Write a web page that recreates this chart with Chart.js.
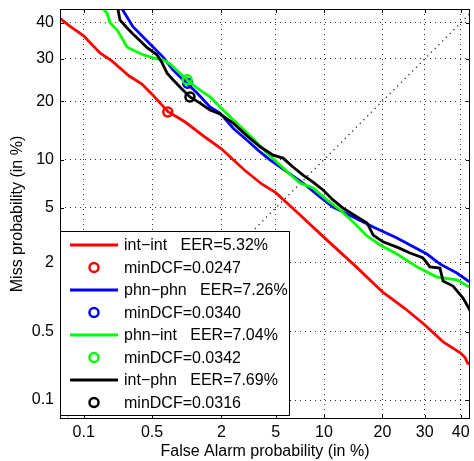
<!DOCTYPE html>
<html>
<head>
<meta charset="utf-8">
<script src="https://cdn.jsdelivr.net/npm/chart.js@4/dist/chart.umd.min.js"></script>
<style>
  html, body { margin: 0; padding: 0; background: #fff; }
  #wrap { width: 474px; height: 461px; }
</style>
</head>
<body>
<div id="wrap"><canvas id="detChart" width="474" height="461"></canvas></div>
<script>
// DET curves, values in %
const xTicks = [0.1, 0.5, 2, 5, 10, 20, 30, 40];
const yTicks = [0.1, 0.5, 2, 5, 10, 20, 30, 40];
const xLimits = [0.0541, 42.74];
const yLimits = [0.0613, 44.1];

const curveNames = ['int\u2212int', 'phn\u2212phn', 'phn\u2212int', 'int\u2212phn'];
const eerValues = ['5.32', '7.26', '7.04', '7.69'];
const minDcfValues = ['0.0247', '0.0340', '0.0342', '0.0316'];
const curveColors = ['#ff0000', '#0000ff', '#00ff00', '#000000'];

const faIntInt = [0.055, 0.07, 0.1, 0.15, 0.2, 0.3, 0.4, 0.5, 0.7, 1, 1.5, 2, 3, 4, 5, 7, 10, 15, 20, 25, 30, 35, 40, 41.3, 42, 43];
const missIntInt = [41.2, 39.1, 36.3, 31.6, 29.5, 25.7, 23.8, 21.5, 17.9, 15.9, 13.2, 11.5, 8.7, 7.15, 6.3, 4.6, 3.1, 1.83, 1.14, 0.82, 0.58, 0.40, 0.31, 0.28, 0.247, 0.236];

const faPhnPhn = [0.255, 0.327, 0.411, 0.511, 0.634, 0.78, 0.957, 1.26, 1.62, 1.95, 2.47, 3.14, 3.90, 4.57, 5.94, 7.50, 9.47, 11.24, 14.4, 18.1, 23.2, 26.3, 30.6, 34.1, 38.9, 42.7];
const missPhnPhn = [44.1, 38.9, 36.0, 33.2, 30.5, 27.2, 24.8, 21.8, 18.8, 17.6, 14.8, 12.8, 11.05, 9.96, 8.47, 7.25, 5.91, 5.07, 4.34, 3.69, 3.07, 2.72, 2.32, 1.94, 1.64, 1.38];

const faPhnInt = [0.162, 0.178, 0.192, 0.226, 0.260, 0.285, 0.327, 0.411, 0.511, 0.634, 0.734, 0.90, 1.04, 1.26, 1.62, 1.95, 2.47, 3.14, 3.70, 4.36, 5.34, 6.49, 7.19, 8.63, 10.4, 12.3, 14.4, 16.9, 19.5, 23.2, 28.0, 33.3, 38.9, 42.7];
const missPhnInt = [44.1, 42.9, 40.0, 38.0, 35.2, 33.2, 32.4, 31.1, 30.3, 29.7, 28.7, 26.4, 24.8, 22.9, 20.9, 18.8, 16.3, 14.0, 12.4, 10.9, 9.3, 7.9, 7.25, 6.74, 5.65, 4.84, 4.0, 3.17, 2.72, 2.32, 1.84, 1.52, 1.44, 1.25];

const faIntPhn = [0.231, 0.242, 0.285, 0.327, 0.384, 0.449, 0.557, 0.621, 0.69, 0.78, 0.90, 1.10, 1.34, 1.62, 1.95, 2.47, 3.14, 3.90, 4.80, 5.59, 6.49, 7.50, 8.63, 9.87, 11.24, 12.7, 15.1, 16.9, 18.1, 20.1, 23.2, 26.3, 29.6, 31.4, 34.1, 35.0, 37.8, 40.7, 42.7, 43.0];
const missIntPhn = [44.1, 40.9, 38.6, 36.8, 34.9, 33.0, 31.1, 29.0, 26.4, 24.8, 23.1, 20.9, 19.6, 18.2, 17.4, 15.7, 13.5, 11.8, 10.6, 10.2, 9.06, 8.11, 7.35, 6.55, 5.65, 5.0, 4.34, 3.94, 3.22, 2.87, 2.62, 2.36, 2.16, 1.84, 1.80, 1.41, 1.28, 1.01, 0.79, 0.71];

// minDCF operating points (fa, miss)
const dcfFa = [0.70, 1.05, 1.04, 1.10];
const dcfMiss = [17.8, 24.0, 24.8, 20.9];

const FONT = "'Liberation Sans', Arial, Helvetica, sans-serif";

// inverse of the standard normal cdf (Acklam)
function probit(p) {
  const a = [-3.969683028665376e+01, 2.209460984245205e+02, -2.759285104469687e+02, 1.383577518672690e+02, -3.066479806614716e+01, 2.506628277459239e+00];
  const b = [-5.447609879822406e+01, 1.615858368580409e+02, -1.556989798598866e+02, 6.680131188771972e+01, -1.328068155288572e+01];
  const c = [-7.784894002430293e-03, -3.223964580411365e-01, -2.400758277161838e+00, -2.549671010448134e+00, 4.374664141464968e+00, 2.938163982698783e+00];
  const d = [7.784695709041462e-03, 3.224671290700398e-01, 2.445134137142996e+00, 3.754408661907416e+00];
  const pl = 0.02425;
  if (p < pl) {
    const q = Math.sqrt(-2 * Math.log(p));
    return (((((c[0]*q+c[1])*q+c[2])*q+c[3])*q+c[4])*q+c[5]) / ((((d[0]*q+d[1])*q+d[2])*q+d[3])*q+1);
  }
  if (p > 1 - pl) {
    const q = Math.sqrt(-2 * Math.log(1 - p));
    return -(((((c[0]*q+c[1])*q+c[2])*q+c[3])*q+c[4])*q+c[5]) / ((((d[0]*q+d[1])*q+d[2])*q+d[3])*q+1);
  }
  const q = p - 0.5, r = q * q;
  return (((((a[0]*r+a[1])*r+a[2])*r+a[3])*r+a[4])*r+a[5])*q / (((((b[0]*r+b[1])*r+b[2])*r+b[3])*r+b[4])*r+1);
}

function normCdf(z) {
  // Abramowitz-Stegun approximation
  const t = 1 / (1 + 0.2316419 * Math.abs(z));
  const poly = t * (0.319381530 + t * (-0.356563782 + t * (1.781477937 + t * (-1.821255978 + t * 1.330274429))));
  const v = 1 - Math.exp(-z * z / 2) / Math.sqrt(2 * Math.PI) * poly;
  return z >= 0 ? v : 1 - v;
}

// normal deviate scale, values given in percent
class ProbitScale extends Chart.Scale {
  determineDataLimits() {
    this.min = this.options.min;
    this.max = this.options.max;
  }
  buildTicks() {
    return this.options.tickValues.map(v => ({ value: v }));
  }
  configure() {
    super.configure();
    this._zMin = probit(this.min / 100);
    this._zMax = probit(this.max / 100);
  }
  getPixelForValue(v) {
    if (v === null || v === undefined || isNaN(v)) return NaN;
    const p = Math.min(Math.max(v / 100, 1e-9), 1 - 1e-9);
    return this.getPixelForDecimal((probit(p) - this._zMin) / (this._zMax - this._zMin));
  }
  getValueForPixel(px) {
    const z = this._zMin + this.getDecimalForPixel(px) * (this._zMax - this._zMin);
    return 100 * normCdf(z);
  }
  getPixelForTick(i) {
    return this.getPixelForValue(this.ticks[i].value);
  }
  getLabelForValue(v) {
    return String(v);
  }
}
ProbitScale.id = 'probit';
ProbitScale.defaults = {};
Chart.register(ProbitScale);

function zip(xs, ys) {
  return xs.map((x, i) => ({ x: x, y: ys[i] }));
}

const curveData = [
  zip(faIntInt, missIntInt),
  zip(faPhnPhn, missPhnPhn),
  zip(faPhnInt, missPhnInt),
  zip(faIntPhn, missIntPhn)
];

const datasets = [];
curveNames.forEach((name, i) => {
  datasets.push({
    label: name,
    legendKind: 'line',
    legendText: name + '   EER=' + eerValues[i] + '%',
    data: curveData[i],
    borderColor: curveColors[i],
    borderWidth: 2.8,
    pointRadius: 0,
    fill: false,
    tension: 0,
    clip: 0,
    order: 20 - 2 * i
  });
  datasets.push({
    label: name + ' minDCF',
    legendKind: 'marker',
    legendText: 'minDCF=' + minDcfValues[i],
    data: [{ x: dcfFa[i], y: dcfMiss[i] }],
    showLine: false,
    borderColor: curveColors[i],
    backgroundColor: 'rgba(0,0,0,0)',
    pointStyle: 'circle',
    pointRadius: 4.5,
    pointBorderWidth: 2.5,
    order: 19 - 2 * i
  });
});

// y = x reference line
datasets.push({
  label: 'diagonal',
  data: [{ x: 0.04, y: 0.04 }, { x: 46, y: 46 }],
  borderColor: '#222',
  borderWidth: 1.3,
  borderDash: [1.3, 4],
  pointRadius: 0,
  clip: 0,
  order: 30
});

// matlab style box with inward ticks
const axesBox = {
  id: 'axesBox',
  afterDatasetsDraw(chart) {
    const { ctx, chartArea: a } = chart;
    const xs = chart.scales.x, ys = chart.scales.y;
    ctx.save();
    ctx.strokeStyle = '#000';
    ctx.lineWidth = 1;
    ctx.beginPath();
    xs.ticks.forEach(t => {
      const px = Math.round(xs.getPixelForValue(t.value)) + 0.5;
      ctx.moveTo(px, a.bottom); ctx.lineTo(px, a.bottom - 4);
      ctx.moveTo(px, a.top); ctx.lineTo(px, a.top + 4);
    });
    ys.ticks.forEach(t => {
      const py = Math.round(ys.getPixelForValue(t.value)) + 0.5;
      ctx.moveTo(a.left, py); ctx.lineTo(a.left + 4, py);
      ctx.moveTo(a.right, py); ctx.lineTo(a.right - 4, py);
    });
    ctx.stroke();
    ctx.strokeRect(a.left + 0.5, a.top + 0.5, a.right - a.left - 1, a.bottom - a.top - 1);
    ctx.restore();
  }
};

// legend box inside the lower left corner
const detLegend = {
  id: 'detLegend',
  afterDraw(chart) {
    const { ctx, chartArea: a } = chart;
    const left = a.left, width = 230, bottom = a.bottom - 3, height = 185;
    const top = bottom - height;
    ctx.save();
    ctx.fillStyle = '#fff';
    ctx.fillRect(left, top, width, height);
    ctx.strokeStyle = '#000';
    ctx.lineWidth = 1;
    ctx.strokeRect(left + 0.5, top + 0.5, width - 1, height - 1);
    ctx.font = '16px ' + FONT;
    ctx.textBaseline = 'middle';
    ctx.textAlign = 'left';
    let row = 0;
    chart.data.datasets.forEach(ds => {
      if (!ds.legendText) return;
      const cy = top + 14 + row * 22.5;
      if (ds.legendKind === 'line') {
        ctx.strokeStyle = ds.borderColor;
        ctx.lineWidth = 2.8;
        ctx.beginPath();
        ctx.moveTo(left + 10, cy);
        ctx.lineTo(left + 58, cy);
        ctx.stroke();
      } else {
        ctx.strokeStyle = ds.borderColor;
        ctx.lineWidth = 2.5;
        ctx.beginPath();
        ctx.arc(left + 34, cy, 4.5, 0, Math.PI * 2);
        ctx.stroke();
      }
      ctx.fillStyle = '#000';
      ctx.fillText(ds.legendText, left + 64, cy + 1);
      row++;
    });
    ctx.restore();
  }
};

function axisOptions(pos, limits, ticks, title, size) {
  return {
    type: 'probit',
    position: pos,
    min: limits[0],
    max: limits[1],
    tickValues: ticks,
    afterFit: s => {
      if (pos === 'left') s.width = size; else s.height = size;
      // keep the plot box where the reference has it
      s.paddingTop = 0; s.paddingBottom = 0;
      s.paddingLeft = 0; s.paddingRight = 0;
    },
    ticks: {
      autoSkip: false,
      maxRotation: 0,
      padding: pos === 'left' ? 6 : 4,
      color: '#000',
      font: { family: FONT, size: 16 }
    },
    grid: { color: '#333', lineWidth: 1, drawTicks: false },
    border: { display: false, dash: [1, 4] },
    title: {
      display: true,
      text: title,
      color: '#000',
      font: { family: FONT, size: 16 },
      padding: pos === 'left' ? { top: 8, bottom: 0 } : { top: 0, bottom: 0 }
    }
  };
}

new Chart(document.getElementById('detChart').getContext('2d'), {
  type: 'line',
  data: { datasets: datasets },
  options: {
    responsive: false,
    animation: false,
    events: [],
    layout: { autoPadding: false, padding: { left: 0, right: 4, top: 9, bottom: 0 } },
    plugins: { legend: { display: false }, tooltip: { enabled: false } },
    scales: {
      x: axisOptions('bottom', xLimits, xTicks, 'False Alarm probability (in %)', 42),
      y: axisOptions('left', yLimits, yTicks, 'Miss probability (in %)', 60)
    }
  },
  plugins: [axesBox, detLegend]
});
</script>
</body>
</html>
